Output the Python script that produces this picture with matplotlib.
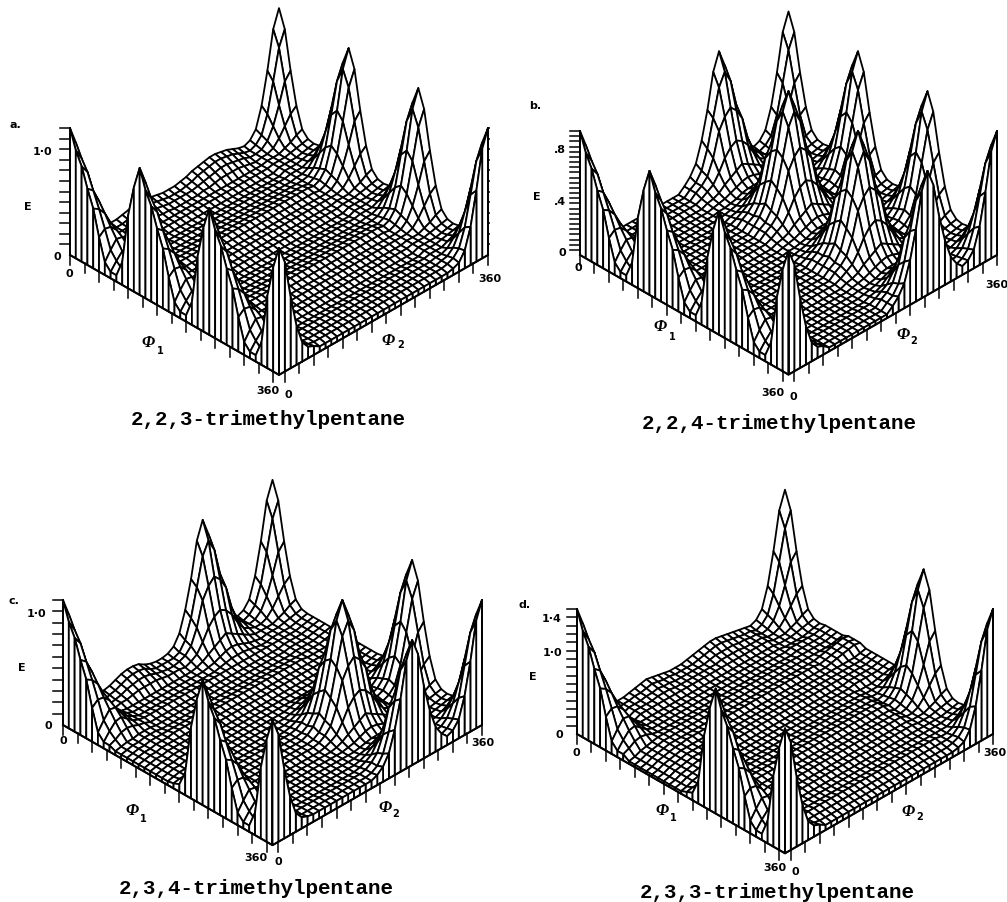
import numpy as np
import matplotlib
matplotlib.use("Agg")
import matplotlib.pyplot as plt
from mpl_toolkits.mplot3d import proj3d
from mpl_toolkits.mplot3d.art3d import Poly3DCollection

W, H = 1007, 902
ELEV = 35

# node positions of the drawn mesh, degrees
PHI = np.arange(0, 361, 10)
PHI1_TICKS = np.arange(0, 351, 25)
PHI2_TICKS = np.arange(10, 361, 25)

# surface values, percent of the E axis height
# start of a row, phi2 = 0..60; H0 passes through a peak, p = rows after it, m = rows before it
H0 = [100,86,56,31,15,9,7]
Hp1 = [85,76,52,30,14,8,6]
Hp2 = [75,68,50,30,14,8,6]
Hp3 = [60,56,45,29,15,8,6]
Hp4 = [47,44,38,28,16,9,6]
Hp5 = [27,31,30,25,16,9,7]
Hp6 = [10,17,23,22,15,10,7]
Hp7 = [5,11,16,17,13,9,7]
Hp8 = [5,7,10,11,10,8,7]
Hm5 = [4,5,5,6,6,6,6]
Hm4 = [6,7,7,7,6,6,6]
Hm3 = [18,17,15,12,9,7,6]
Hm2 = [57,48,33,19,11,7,6]
Hm1 = [82,72,50,27,13,8,6]
HQ = [3,4,5,5,6,6,6]
HD = [2,3,5,6,7,8,8]
# end of a row, phi2 = 300..360
T0 = [7,9,15,31,56,86,100]
T1 = [6,8,13,27,50,74,86]
T2 = [6,7,11,20,34,50,56]
T3 = [6,6,8,13,20,27,31]
T4 = [6,6,6,8,10,13,15]
T5 = [6,6,6,7,8,9,10]
T6 = [6,6,6,6,7,8,9]
TD = [8,8,8,8,8,9,10]
TE = [8,9,10,11,12,13,12]
TL = [5,7,14,30,56,86,100]
# middle of a row, phi2 = 70..290
AB0 = [7,7,8,9,10,11,10,9,8,7,7,7,8,9,11,12,13,14,14,13,12,10,8]
AB1 = [6,6,7,8,9,10,9,8,7,6,6,6,7,8,10,11,12,13,13,12,11,9,7]
AB2 = [6,6,6,7,8,8,8,7,6,6,6,6,6,7,8,9,10,11,11,10,9,8,6]
AB3 = [5,5,5,6,6,7,6,6,5,5,5,5,5,6,6,7,8,8,8,8,7,6,5]
P4 = [4]*23
P5 = [5]*23
P6 = [6]*23
P7 = [7]*23
P8 = [8]*23
P9 = [9]*23
BM0 = [3]*11 + [7,12,20,36,58,86,100,86,58,36,20,12]
BM1 = [3]*11 + [7,10,17,32,54,76,86,76,54,32,17,10]
BM2 = [3]*11 + [7,10,15,27,46,55,60,55,46,27,15,10]
BM3 = [3]*11 + [5,8,11,18,27,33,36,33,27,18,11,8]
BM4 = [2]*11 + [4,5,7,11,14,17,20,17,14,11,7,5]
BM5 = [2]*11 + [3,4,5,7,9,11,12,11,9,7,5,4]
BM6 = [2]*11 + [3,3,4,5,7,8,8,8,7,5,4,3]
CB0 = [9,10,12,14,15,15,14,11,9,8,8,9,12,20,36,58,86,100,86,58,36,20,12]
CB1 = [8,9,11,13,14,14,13,10,8,8,8,8,10,17,32,54,76,86,76,54,32,17,10]
CB2 = [7,8,10,11,12,12,11,9,8,7,7,8,10,15,27,46,55,60,55,46,27,15,10]
CB3 = [7,7,8,9,9,9,9,8,7,7,7,6,8,11,18,27,33,36,33,27,18,11,8]
DM0 = [6]*11 + [8,12,20,36,58,86,100,86,58,36,20,12]
DM1 = [6]*11 + [7,10,17,32,54,76,86,76,54,32,17,10]
DM2 = [6]*11 + [7,10,15,27,46,55,60,55,46,27,15,10]
DM3 = [5]*11 + [6,8,11,18,27,33,36,33,27,18,11,8]
DM4 = [5]*11 + [5,6,8,11,14,17,20,17,14,11,8,6]
DM5 = [5]*11 + [5,5,6,7,9,11,12,11,9,7,6,5]
DM6 = [5]*11 + [5,5,5,6,7,8,8,8,7,6,5,5]
EB0 = [8,8,9,10,11,12,11,10,9,8,8,8,9,10,11,12,13,13,12,11,10,9,8]
EB1 = [8,8,9,9,10,11,10,9,9,8,8,8,8,9,10,11,12,12,11,10,9,8,8]
EB2 = [8,8,8,9,9,10,9,9,8,8,8,8,8,8,9,10,10,10,10,9,9,8,8]
EB3 = [8,8,8,8,9,9,9,8,8,8,8,8,8,8,8,9,9,9,9,8,8,8,8]

GRID_A = [H0+AB0+T0, Hp1+AB1+T1, Hp2+AB2+T2, Hp3+AB3+T3, Hp4+P5+T4, Hp5+P5+T5, Hp6+P4+T6, Hp7+P4+T5, Hp8+P5+T4, Hm3+P5+T3, Hm2+P6+T2, Hm1+P7+T1,
          H0+P8+T0, Hp1+P7+T1, Hp2+P6+T2, Hp3+P6+T3, Hp4+P5+T4, Hp5+P5+T5, Hp6+P4+T6, Hp7+P4+T5, Hp8+P5+T4, Hm3+P5+T3, Hm2+P6+T2, Hm1+P7+T1,
          H0+P8+T0, Hp1+P7+T1, Hp2+P6+T2, Hp3+P6+T3, Hp4+P5+T4, Hp5+P5+T5, Hp6+P4+T6, Hp7+P4+T5, Hp8+P5+T4, Hm3+P5+T3, Hm2+P5+T2, Hm1+P5+T1,
          H0+P4+TL]
GRID_B = [H0+BM0+T0, Hp1+BM1+T1, Hp2+BM2+T2, Hp3+BM3+T3, Hp4+BM4+T4, Hp5+BM5+T5, Hp6+BM6+T6, Hp7+BM5+T5, Hp8+BM4+T4, Hm3+BM3+T3, Hm2+BM2+T2, Hm1+BM1+T1,
          H0+BM0+T0, Hp1+BM1+T1, Hp2+BM2+T2, Hp3+BM3+T3, Hp4+BM4+T4, Hp5+BM5+T5, Hp6+BM6+T6, Hp7+BM5+T5, Hp8+BM4+T4, Hm3+BM3+T3, Hm2+BM2+T2, Hm1+BM1+T1,
          H0+BM0+T0, Hp1+BM1+T1, Hp2+BM2+T2, Hp3+BM3+T3, Hp4+BM4+T4, Hp5+BM5+T5, Hp6+BM6+T6, Hp7+BM5+T5, Hp8+BM4+T4, Hm3+BM3+T3, Hm2+BM2+T2, Hm1+BM1+T1,
          H0+BM0+T0]
GRID_C = [H0+CB0+T0, Hp1+CB1+T1, Hp2+CB2+T2, Hp3+CB3+T3, Hp4+DM4+T4, Hp5+DM5+T5, Hp6+DM6+T6, Hp7+P6+T6, Hp8+P5+T6,
          HQ+P5+T6, HQ+P5+T6, HQ+P6+T6, HQ+P7+T6, HQ+P6+T6, HQ+P6+T6, HQ+P5+T6, HQ+P5+T6, HQ+P5+T6, HQ+DM6+T6,
          Hm5+DM5+T5, Hm4+DM4+T4, Hm3+DM3+T3, Hm2+DM2+T2, Hm1+DM1+T1,
          H0+DM0+T0, Hp1+DM1+T1, Hp2+DM2+T2, Hp3+DM3+T3, Hp4+DM4+T4, Hp5+DM5+T5, Hp6+DM6+T6, Hp7+DM5+T5, Hp8+DM4+T4, Hm3+DM3+T3, Hm2+DM2+T2, Hm1+DM1+T1,
          H0+DM0+T0]
GRID_D = [H0+EB0+T0, Hp1+EB1+T1, Hp2+EB2+T2, Hp3+EB3+T3, Hp4+P8+T4, Hp5+P7+T5, Hp6+P7+T6, Hp7+P7+TD, Hp8+P7+TD,
          HD+P8+TD, HD+P8+TD, HD+P8+TE, HD+P9+TE, HD+P8+TE, HD+P8+TD, HD+P8+TD, HD+P8+TD, HD+P7+TD, HD+P7+TD,
          Hm5+P7+T5, Hm4+P7+T4, Hm3+P8+T3, Hm2+P8+T2, Hm1+P9+T1,
          H0+P9+T0, Hp1+P8+T1, Hp2+P8+T2, Hp3+P8+T3, Hp4+P7+T4, Hp5+P7+T5, Hp6+P6+T6, Hp7+P6+T5, Hp8+P6+T4, Hm3+P7+T3, Hm2+P6+T2, Hm1+P5+T1,
          H0+P4+TL]

# E axis of each panel: top value and tick step
E_TOP = [1.2, 0.96, 1.1, 1.5]
E_STEP = [0.1, 0.04, 0.1, 0.1]
AXIS_PX = [127, 124, 125, 125]
NAMES = ["2,2,3-trimethylpentane", "2,2,4-trimethylpentane", "2,3,4-trimethylpentane", "2,3,3-trimethylpentane"]
# left corner x, right corner x, base y
CORNERS = [(70, 488, 255), (580, 997, 255), (63, 482, 725), (577, 993, 734)]

# text, x, y in picture pixels
LABELS = [
    [("a.", 15, 125), ("1\u00b70", 43, 152), ("E", 28, 207), ("0", 57, 257), ("0", 69, 274),
     ("360", 268, 391), ("0", 288, 395), ("360", 490, 279)],
    [("b.", 535, 106), (".8", 560, 150), (".4", 560, 202), ("E", 537, 197), ("0", 562, 253), ("0", 578, 268),
     ("360", 773, 393), ("0", 793, 397), ("360", 997, 285)],
    [("c.", 14, 601), ("1\u00b70", 37, 614), ("E", 22, 668), ("0", 48, 726), ("0", 63, 741),
     ("360", 256, 858), ("0", 278, 862), ("360", 483, 743)],
    [("d.", 525, 605), ("1\u00b74", 552, 619), ("1\u00b70", 552, 653), ("E", 533, 677), ("0", 559, 735), ("0", 576, 753),
     ("360", 775, 868), ("0", 795, 872), ("360", 995, 753)],
]
PHI_LABELS = [[(148, 343, 160, 351), (388, 341, 401, 345)],
              [(660, 327, 672, 337), (903, 335, 914, 341)],
              [(132, 811, 143, 819), (385, 808, 396, 814)],
              [(662, 811, 673, 818), (908, 812, 920, 817)]]
CAPTIONS = [(268, 420), (779, 423), (256, 889), (777, 893)]


def fit_axes(ax, left, right, base):
    # move the square axes so the base corners land on the wanted pixels
    for _ in range(2):
        xs, ys, _z = proj3d.proj_transform(np.array([0.0, 360.0]), np.array([0.0, 360.0]), np.zeros(2), ax.get_proj())
        p = ax.transData.transform(np.column_stack([xs, ys]))
        pos = ax.get_position()
        scale = (right - left) / (p[1, 0] - p[0, 0])
        size = pos.width * W * scale
        x0 = left - (p[0, 0] - pos.x0 * W) * scale
        y0 = (H - base) - (p[0, 1] - pos.y0 * H) * scale
        ax.set_position([x0 / W, y0 / H, size / W, size / H])


def draw_surface(ax, grid, top):
    z = np.array(grid, dtype=float) * top / 100
    x = np.r_[PHI, 360]
    y = np.r_[0, PHI]
    n = len(PHI)
    # one extra row and column at E = 0 make the hanging skirts on the two front edges
    zz = np.zeros((n + 1, n + 1))
    zz[:n, 1:] = z
    polys = []
    # far corner first so that nearer cells paint over it
    for i in range(n):
        for j in range(n - 1, -1, -1):
            polys.append([(x[i], y[j], zz[i, j]), (x[i + 1], y[j], zz[i + 1, j]),
                          (x[i + 1], y[j + 1], zz[i + 1, j + 1]), (x[i], y[j + 1], zz[i, j + 1])])
    coll = Poly3DCollection(polys, facecolors="white", edgecolors="black", linewidths=1.3)
    coll._zsortfunc = lambda v: 0
    ax.add_collection3d(coll, autolim=False)


def draw_axes_lines(ax, top, step, axis_px):
    down = -10 / axis_px * top
    for p in PHI1_TICKS:
        ax.plot([p, p], [0, 0], [0, down], color="black", lw=1.1, zorder=5)
    for p in PHI2_TICKS:
        ax.plot([360, 360], [p, p], [0, down], color="black", lw=1.1, zorder=5)
    ax.plot([0, 360, 360], [0, 0, 360], [0, 0, 0], color="black", lw=1.4, zorder=5)
    ax.plot([0, 0], [0, 0], [0, top], color="black", lw=1.2, zorder=5)
    ax.plot([360, 360], [360, 360], [0, top], color="black", lw=1.2, zorder=5)
    # E ticks run sideways on the page, so both phi move together
    d = 8.6
    for e in np.arange(step, top + step / 2, step):
        ax.plot([0, -d], [0, -d], [e, e], color="black", lw=1.1, zorder=5)
        ax.plot([360, 360 + d], [360, 360 + d], [e, e], color="black", lw=1.1, zorder=5)


fig = plt.figure(figsize=(W / 100, H / 100), dpi=100)
grids = [GRID_A, GRID_B, GRID_C, GRID_D]

for n in range(4):
    left, right, base = CORNERS[n]
    ax = fig.add_axes([0.1, 0.1, 0.5, 0.5 * W / H], projection="3d", computed_zorder=False)
    ax.set_proj_type("ortho")
    ax.view_init(elev=ELEV, azim=-45)
    ax.set_xlim(0, 360, view_margin=0)
    ax.set_ylim(0, 360, view_margin=0)
    ax.set_zlim(0, E_TOP[n], view_margin=0)
    side = (right - left) / np.sqrt(2)
    ax.set_box_aspect((1, 1, AXIS_PX[n] / (side * np.cos(np.radians(ELEV)))))
    ax.set_axis_off()
    draw_surface(ax, grids[n], E_TOP[n])
    draw_axes_lines(ax, E_TOP[n], E_STEP[n], AXIS_PX[n])
    fit_axes(ax, left, right, base)

    for txt, x, y in LABELS[n]:
        fig.text(x / W, 1 - y / H, txt, ha="center", va="center", fontsize=8, fontweight="bold", family="DejaVu Sans")
    for k, (x, y, sx, sy) in enumerate(PHI_LABELS[n]):
        fig.text(x / W, 1 - y / H, "\u03a6", ha="center", va="center", fontsize=12, fontstyle="italic",
                 fontweight="bold", family="Liberation Serif")
        fig.text(sx / W, 1 - sy / H, str(k + 1), ha="center", va="center", fontsize=7, fontweight="bold", family="DejaVu Sans")
    fig.text(CAPTIONS[n][0] / W, 1 - CAPTIONS[n][1] / H, NAMES[n], ha="center", va="center", fontsize=15,
             family="Liberation Mono", fontweight="bold")

fig.savefig("out.png", dpi=100)
